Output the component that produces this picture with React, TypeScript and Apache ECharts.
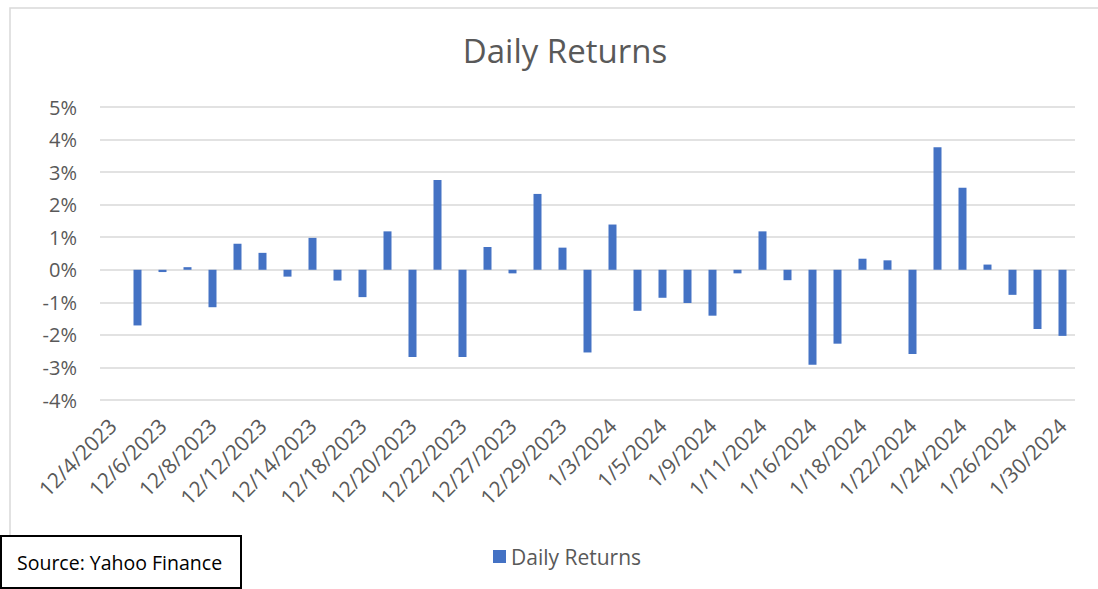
import React, { useEffect, useRef } from "react";
import * as echarts from "echarts";

const dates: string[] = [
  "12/4/2023", "12/5/2023", "12/6/2023", "12/7/2023", "12/8/2023",
  "12/11/2023", "12/12/2023", "12/13/2023", "12/14/2023", "12/15/2023",
  "12/18/2023", "12/19/2023", "12/20/2023", "12/21/2023", "12/22/2023",
  "12/26/2023", "12/27/2023", "12/28/2023", "12/29/2023",
  "1/2/2024", "1/3/2024", "1/4/2024", "1/5/2024",
  "1/8/2024", "1/9/2024", "1/10/2024", "1/11/2024", "1/12/2024",
  "1/16/2024", "1/17/2024", "1/18/2024", "1/19/2024",
  "1/22/2024", "1/23/2024", "1/24/2024", "1/25/2024", "1/26/2024",
  "1/29/2024", "1/30/2024",
];

// Daily returns in percent (first day has no return)
const dailyReturns: (number | null)[] = [
  null, -1.71, -0.07, 0.08, -1.15,
  0.8, 0.52, -0.21, 0.98, -0.33,
  -0.84, 1.18, -2.68, 2.76, -2.68,
  0.7, -0.11, 2.33, 0.68,
  -2.54, 1.39, -1.26, -0.86,
  -1.02, -1.41, -0.11, 1.18, -0.32,
  -2.92, -2.27, 0.34, 0.29,
  -2.59, 3.76, 2.52, 0.16, -0.77,
  -1.82, -2.03,
];

const seriesName = "Daily Returns";
const titleText = "Daily Returns";
const sourceText = "Source: Yahoo Finance";

const FONT = "'Open Sans', sans-serif";
const GRAY = "#595959";

export default function App() {
  const ref = useRef<HTMLDivElement>(null);
  useEffect(() => {
    if (!ref.current) return;
    const chart = echarts.init(ref.current, undefined, { renderer: "svg" });
    chart.setOption({
      animation: false,
      backgroundColor: "#ffffff",
      textStyle: { fontFamily: FONT },
      title: {
        text: titleText,
        left: 560,
        top: 29,
        textAlign: "center",
        textStyle: { fontFamily: FONT, fontSize: 33, fontWeight: "normal", color: GRAY },
      },
      legend: {
        data: [seriesName],
        left: 488,
        top: 541,
        itemWidth: 13,
        itemHeight: 13,
        icon: "rect",
        textStyle: { fontFamily: FONT, fontSize: 21, color: GRAY },
      },
      grid: { left: 100, right: 23, top: 107, bottom: 189, containLabel: false },
      xAxis: {
        type: "category",
        data: dates,
        axisLine: { show: false },
        axisTick: { show: false },
        axisLabel: {
          interval: 1,
          rotate: 45,
          margin: 22,
          fontFamily: FONT,
          fontSize: 21,
          color: GRAY,
        },
        splitLine: { show: false },
      },
      yAxis: {
        type: "value",
        min: -4,
        max: 5,
        interval: 1,
        axisLine: { show: false },
        axisTick: { show: false },
        axisLabel: {
          formatter: "{value}%",
          margin: 23,
          fontFamily: FONT,
          fontSize: 20,
          color: GRAY,
        },
        splitLine: { lineStyle: { color: "#d9d9d9", width: 1.5 } },
      },
      series: [
        {
          name: seriesName,
          type: "bar",
          data: dailyReturns,
          barWidth: 8,
          itemStyle: { color: "#4472C4" },
        },
      ],
      graphic: [
        {
          type: "rect",
          shape: { x: 10, y: 8, width: 1200, height: 700 },
          style: { fill: "none", stroke: "#d9d9d9", lineWidth: 1.5 },
          z: -1,
          silent: true,
        },
        {
          type: "rect",
          shape: { x: 1, y: 536, width: 240, height: 52 },
          style: { fill: "#ffffff", stroke: "#000000", lineWidth: 2 },
          z: 10,
        },
        {
          type: "text",
          x: 17,
          y: 562,
          z: 11,
          style: {
            text: sourceText,
            fontFamily: FONT,
            fontSize: 19.5,
            fill: "#000000",
            verticalAlign: "middle",
          },
        },
      ],
    });
    return () => chart.dispose();
  }, []);
  return (
    <div
      ref={ref}
      style={{ position: "fixed", left: 0, top: 0, width: 1098, height: 589, background: "#fff" }}
    />
  );
}
